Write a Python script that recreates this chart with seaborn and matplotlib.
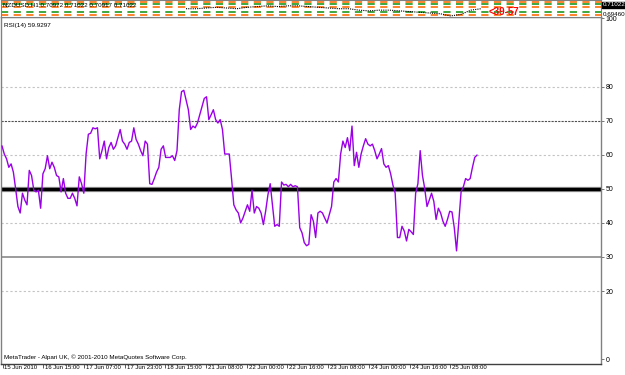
import numpy as np
import pandas as pd
import matplotlib
matplotlib.use("Agg")
import matplotlib.pyplot as plt
import matplotlib.transforms as mtransforms
import seaborn as sns

sns.set_style("white")
plt.rcParams['font.family'] = ['Liberation Sans', 'DejaVu Sans']

# ---------------- data ----------------
rsi_values = [
    62.6, 60.2, 58.8, 56.3, 57.3, 54.9, 50.0, 44.8, 42.9, 48.7, 46.7, 45.3, 55.4, 53.9, 49.6, 49.1, 49.6, 44.3,
    54.4, 55.9, 59.7, 55.9, 57.8, 56.3, 53.9, 53.5, 49.1, 53.0, 48.7, 47.2, 47.2, 48.7, 47.2, 45.0, 53.5, 51.5,
    48.7, 60.2, 66.0, 66.3, 67.9,
    67.6, 67.9, 58.8, 61.2, 64.0, 58.8, 62.1, 63.6, 61.6, 62.6, 65.0, 67.4, 64.0, 63.1, 61.6, 63.6, 64.0, 67.9,
    64.5, 63.1, 61.2, 59.7, 64.0, 63.1, 51.5, 51.3, 53.0, 54.9, 56.3, 61.6, 62.6, 59.2, 59.2, 59.2, 59.7, 58.3,
    61.2, 73.2, 78.5, 78.9, 76.1,
    73.2, 67.4, 68.4, 67.9, 69.3, 71.7, 74.1, 76.5, 77.0, 70.3, 71.7, 73.2, 70.3, 69.3, 70.3, 67.4, 60.2, 60.2,
    60.2, 53.0, 45.3, 43.8, 42.9, 40.0, 41.4, 43.4, 45.3, 43.4, 49.6, 42.9, 44.8, 44.3, 42.9, 39.5, 43.4, 48.2,
    51.5, 45.3, 39.0, 39.5, 39.0, 52.0, 51.1, 51.3, 50.6,
    51.3, 50.6, 50.9, 50.6, 38.6, 37.1, 34.2, 33.3, 33.7, 42.4, 40.5, 35.7, 42.9, 43.4, 42.9, 41.4, 40.0, 42.4,
    44.8, 52.0, 53.0, 52.0, 60.2, 64.0, 62.1, 65.0, 61.2, 68.4, 56.8, 60.7, 56.3, 60.2, 62.6, 64.7, 63.1, 62.6,
    63.1, 61.2, 58.8, 60.2, 61.8, 57.3, 56.3, 56.8, 54.4,
    51.1, 48.7, 35.7, 35.7, 39.0, 37.6, 34.7, 38.1, 37.4, 36.6, 48.7, 51.5, 61.2, 53.9, 50.1, 44.8, 46.7, 48.7,
    46.3, 41.0, 44.3, 42.9, 40.5, 39.0, 41.0, 43.4, 43.2, 38.6, 31.8, 40.5, 49.1, 50.6, 53.0, 52.5, 53.0, 56.3,
    59.2, 59.9,
]
rsi_levels_grid = [80, 60, 40, 20]
rsi_levels_dash = [70]
rsi_levels_solid = [30]
rsi_mid = 50
y_tick_values = [100, 80, 70, 60, 50, 40, 30, 20, 0]
x_tick_labels = ["15 Jun 2010", "16 Jun 15:00", "17 Jun 07:00", "17 Jun 23:00", "18 Jun 15:00",
                 "21 Jun 08:00", "22 Jun 00:00", "22 Jun 16:00", "23 Jun 08:00", "24 Jun 00:00",
                 "24 Jun 16:00", "25 Jun 08:00"]
price_values = [0.70848, 0.70848, 0.70935, 0.71022, 0.70935, 0.70848, 0.71022, 0.71109, 0.71196, 0.71109,
                0.71196, 0.71196, 0.71109, 0.71022, 0.70935, 0.70848, 0.70848, 0.70675, 0.70588, 0.70675,
                0.70675, 0.70588, 0.70501, 0.70414, 0.70328, 0.70241, 0.69981, 0.70154, 0.70675, 0.70848]
header_text = "NZDUSD,H1 0.70972 0.71022 0.70917 0.71022"
rsi_label = "RSI(14) 59.9297"
copyright_text = "MetaTrader - Alpari UK, © 2001-2010 MetaQuotes Software Corp."

# ---------------- figure ----------------
W, H = 625, 375
fig = plt.figure(figsize=(W / 100, H / 100), dpi=100)
fig.patch.set_facecolor("white")

def px_axes(x0, y0, x1, y1):
    return fig.add_axes([x0 / W, 1 - y1 / H, (x1 - x0) / W, (y1 - y0) / H])

# main RSI panel
ax = px_axes(1, 17, 601, 364)
n = len(rsi_values)
df = pd.DataFrame({"bar": np.arange(n), "rsi": rsi_values})
px_per_bar = (477 - 2) / (n - 1)
x0 = -(2 - 1) / px_per_bar
ax.set_xlim(x0, x0 + 600 / px_per_bar)
ax.set_ylim(-1.4, 100.4)

for v in rsi_levels_grid:
    ax.axhline(v, color="#c4c4c4", lw=0.8, ls=(0, (2, 2)), zorder=1)
for v in rsi_levels_dash:
    ax.axhline(v, color="#505050", lw=0.8, ls=(0, (2, 1)), zorder=1)
for v in rsi_levels_solid:
    ax.axhline(v, color="#8a8a8a", lw=1.2, zorder=1)
ax.axhline(rsi_mid, color="#9a9a9a", lw=3.8, zorder=1)
ax.axhline(rsi_mid, color="#000000", lw=2.4, zorder=1)

sns.lineplot(data=df, x="bar", y="rsi", ax=ax, color="#9a00e6", lw=1.0, zorder=3, legend=False)
ax.set_xlabel("")
ax.set_ylabel("")

for s in ["left", "right"]:
    ax.spines[s].set_color("#808080")
    ax.spines[s].set_linewidth(1.0)
ax.spines["bottom"].set_color("#404040")
ax.spines["bottom"].set_linewidth(1.0)
ax.spines["top"].set_color("#808080")
ax.spines["top"].set_linewidth(1.0)

ax.yaxis.tick_right()
ax.set_yticks(y_tick_values)
ax.set_yticklabels([str(v) for v in y_tick_values])
ax.tick_params(axis="y", right=True, length=2, width=0.6, color="#606060", pad=1.5,
               labelsize=5, labelcolor="#000000")

tick_step_px = 40.7
tick_pos = [((2.5 + k * tick_step_px) - 2) / px_per_bar for k in range(len(x_tick_labels))]
ax.set_xticks(tick_pos)
ax.set_xticklabels(x_tick_labels)
ax.tick_params(axis="x", bottom=True, length=3, width=0.6, color="#404040", pad=-2.2,
               labelsize=4.3, labelcolor="#000000")
offset = mtransforms.ScaledTranslation(2 / 100, 0, fig.dpi_scale_trans)
for lbl in ax.get_xticklabels():
    lbl.set_horizontalalignment("left")
    lbl.set_transform(lbl.get_transform() + offset)

ax.text(3 / 600, 1 - 8 / 347, rsi_label, transform=ax.transAxes, fontsize=4.6, ha="left", va="center",
        color="#000000")
ax.text(3 / 600, 1 - (357 - 17) / 347, copyright_text, transform=ax.transAxes, fontsize=4.5,
        ha="left", va="center", color="#000000")

# top price strip
axt = px_axes(1, 0, 601, 17)
axt.set_xlim(0, 600)
axt.set_ylim(0.6985, 0.7190)
stripe_colors = ["#ff7a1a", "#2fa02f", "#ff7a1a", "#2fa02f", "#ff7a1a"]
stripe_y = [0.7170, 0.7140, 0.7100, 0.7050, 0.7005]
for c, yv in zip(stripe_colors, stripe_y):
    axt.axhline(yv, color=c, lw=1.3, ls=(0, (4, 3)), zorder=1)
price_df = pd.DataFrame({"x": np.linspace(185, 480, len(price_values)), "p": price_values})
sns.lineplot(data=price_df, x="x", y="p", ax=axt, color="#000000", lw=0.8, ls=(0, (1, 1)), zorder=3,
             legend=False)
axt.set_xlabel("")
axt.set_ylabel("")
axt.set_xticks([])
axt.set_yticks([])
for s in axt.spines.values():
    s.set_color("#808080")
    s.set_linewidth(0.8)
axt.text(2 / 600, 0.72, header_text, transform=axt.transAxes, fontsize=4.5, ha="left", va="center",
         color="#000000", zorder=5)
axt.text(488 / 600, 0.30, "<39-57", transform=axt.transAxes, fontsize=7, ha="left", va="center",
         color="#ff0000", fontweight="bold", zorder=5)

fig.text(603 / W, 1 - 5 / H, "0.71022", fontsize=4.5, color="white", ha="left", va="center",
         bbox=dict(boxstyle="square,pad=0.15", fc="black", ec="black"))
fig.text(603 / W, 1 - 14 / H, "0.69460", fontsize=4.5, color="black", ha="left", va="center")

fig.savefig("out.png", dpi=100, facecolor="white")
